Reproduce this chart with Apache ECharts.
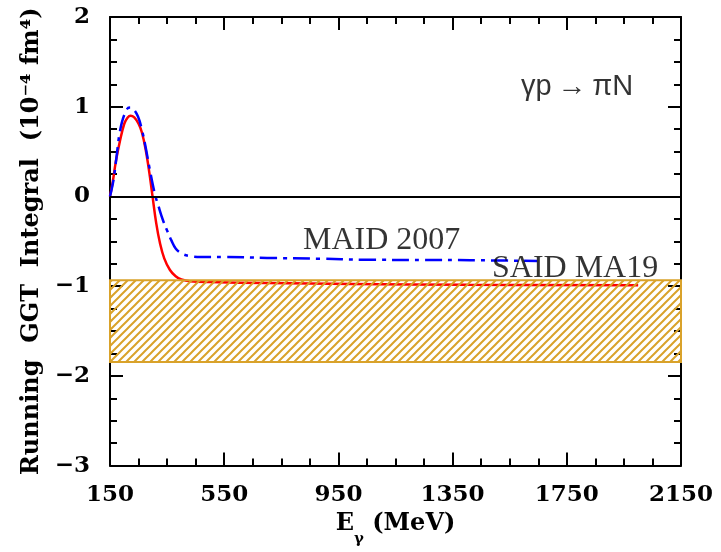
<!DOCTYPE html>
<html><head><meta charset="utf-8">
<script src="https://cdn.jsdelivr.net/npm/echarts@6/dist/echarts.min.js"></script>
<style>html,body{margin:0;padding:0;background:#fff}#c{width:721px;height:552px}</style>
</head><body><div id="c"></div>
<script>
// ---- data ----
const xMajorTicks = [150, 550, 950, 1350, 1750, 2150];
const xMinorTicks = [150, 250, 350, 450, 550, 650, 750, 850, 950, 1050, 1150, 1250, 1350, 1450, 1550, 1650, 1750, 1850, 1950, 2050, 2150];
const yTickLabels = {'2': '2', '1': '1', '0': '0', '-1': '\u22121', '-2': '\u22122', '-3': '\u22123'};

const saidEnergy = [150, 160, 170, 185, 200, 212, 222, 235, 250, 262, 275, 288, 299, 312, 325, 340, 360, 380, 400, 430, 500, 700, 1000, 1400, 2000];
const saidValues = [0, 0.17, 0.38, 0.62, 0.81, 0.88, 0.90, 0.88, 0.81, 0.71, 0.52, 0.26, 0, -0.30, -0.52, -0.69, -0.82, -0.89, -0.925, -0.945, -0.955, -0.965, -0.975, -0.985, -0.99];

const maidEnergy = [150, 162, 172, 185, 202, 218, 230, 248, 262, 273, 290, 307, 320, 335, 350, 365, 380, 400, 430, 470, 550, 700, 885, 1036, 1250, 1411, 1646];
const maidValues = [0, 0.18, 0.42, 0.73, 0.925, 0.99, 0.98, 0.89, 0.74, 0.58, 0.29, 0.03, -0.11, -0.26, -0.38, -0.49, -0.58, -0.635, -0.665, -0.675, -0.675, -0.685, -0.694, -0.705, -0.708, -0.71, -0.72];

const bandEnergy = [150, 2150];
const bandLimits = [-0.935, -1.845];

const textNames = ['MAID 2007', 'SAID MA19'];
const textAnchors = [[826, -0.495], [1488, -0.8]];
const reactionName = '\u03B3p\u2009\u2192\u2009\u03C0N';
const reactionAnchor = [1590, 1.22];

// ---- chart ----
function hatch() {
  const c = document.createElement('canvas');
  c.width = 8; c.height = 8;
  const g = c.getContext('2d');
  g.strokeStyle = '#d9a22a';
  g.lineWidth = 2;
  g.beginPath();
  g.moveTo(-1, 9); g.lineTo(9, -1);
  g.moveTo(-3, 3); g.lineTo(3, -3);
  g.moveTo(5, 11); g.lineTo(11, 5);
  g.stroke();
  return c;
}
const zip = (a, b) => a.map((v, i) => [v, b[i]]);
const axisLineStyle = {color: '#000', width: 2};
const serif = 'DejaVu Serif';
const gold = '#d9a22a';

function xAx(pos, major) {
  return {
    type: 'value', min: 150, max: 2150, position: pos,
    axisLine: {show: major, onZero: false, lineStyle: axisLineStyle},
    axisTick: {show: true, inside: true, length: major ? 13 : 7, customValues: major ? xMajorTicks : xMinorTicks, lineStyle: {color: '#000', width: 2}},
    axisLabel: {show: false},
    splitLine: {show: false}
  };
}
const xAxes = [xAx('bottom', true), xAx('bottom', false), xAx('top', true), xAx('top', false)];
xAxes[0].axisLabel = {show: true, customValues: xMajorTicks, formatter: v => String(v), margin: 18, color: '#000', fontFamily: serif, fontWeight: 'bold', fontSize: 23};
xAxes[0].name = '{e|E}{g|\u03B3}{e| (MeV)}';
xAxes[0].nameLocation = 'middle';
xAxes[0].nameGap = 40;
xAxes[0].nameTextStyle = {
  rich: {
    e: {fontFamily: serif, fontWeight: 'bold', fontSize: 24, color: '#000', lineHeight: 24, verticalAlign: 'top'},
    g: {fontFamily: serif, fontWeight: 'bold', fontSize: 15, color: '#000', lineHeight: 56, verticalAlign: 'middle'}
  }
};

function yAx(pos, main) {
  return {
    type: 'value', min: -3, max: 2, interval: 1, position: pos,
    axisLine: {show: true, onZero: false, lineStyle: axisLineStyle},
    axisTick: {show: true, inside: true, length: 13, lineStyle: {color: '#000', width: 2}},
    minorTick: {show: true, splitNumber: 4, length: 7, lineStyle: {color: '#000', width: 2}},
    axisLabel: main ? {show: true, formatter: v => yTickLabels[String(v)], margin: 20, color: '#000', fontFamily: serif, fontWeight: 'bold', fontSize: 23} : {show: false},
    splitLine: {show: false},
    minorSplitLine: {show: false}
  };
}
const yAxes = [yAx('left', true), yAx('right', false)];
yAxes[0].name = 'Running  GGT  Integral  (10\u207B\u2074 fm\u2074)';
yAxes[0].nameLocation = 'middle';
yAxes[0].nameGap = 50;
yAxes[0].nameTextStyle = {fontFamily: serif, fontWeight: 'bold', fontSize: 24, color: '#000'};

const chart = echarts.init(document.getElementById('c'), null, {renderer: 'canvas'});
chart.setOption({
  animation: false,
  backgroundColor: '#fff',
  grid: {left: 110, right: 40, top: 17, bottom: 79, containLabel: false},
  xAxis: xAxes,
  yAxis: yAxes,
  series: [
    {
      type: 'line', name: 'SAID MA19', xAxisIndex: 0, yAxisIndex: 0,
      data: zip(saidEnergy, saidValues), showSymbol: false, smooth: 0.4,
      lineStyle: {color: '#f00', width: 2.5}, z: 2,
      markLine: {silent: true, symbol: 'none', label: {show: false}, lineStyle: {color: '#000', type: 'solid', width: 2}, data: [{yAxis: 0}]}
    },
    {
      type: 'line', name: 'MAID 2007', xAxisIndex: 0, yAxisIndex: 0,
      data: zip(maidEnergy, maidValues), showSymbol: false, smooth: 0.4,
      lineStyle: {color: '#0000ff', width: 2.5, type: [17, 6, 4, 6]}, z: 3
    },
    {
      type: 'line', name: 'band', xAxisIndex: 0, yAxisIndex: 0, data: [], z: 5,
      markArea: {
        silent: true, z: 10,
        itemStyle: {color: {image: hatch(), repeat: 'repeat'}, borderColor: gold, borderWidth: 2},
        data: [[{coord: [bandEnergy[0], bandLimits[0]]}, {coord: [bandEnergy[1], bandLimits[1]]}]]
      }
    },
    {
      type: 'scatter', xAxisIndex: 0, yAxisIndex: 0, symbolSize: 0, z: 11, silent: true,
      data: textNames.map((n, i) => ({name: n, value: textAnchors[i]})),
      label: {show: true, position: 'right', distance: 0, formatter: '{b}', fontFamily: 'Liberation Serif', fontSize: 32, color: '#000'}
    },
    {
      type: 'scatter', xAxisIndex: 0, yAxisIndex: 0, symbolSize: 0, z: 11, silent: true,
      data: [{name: reactionName, value: reactionAnchor}],
      label: {show: true, position: 'right', distance: 0, formatter: '{b}', fontFamily: 'Liberation Sans', fontSize: 29, color: '#000'}
    }
  ]
});
</script>
</body></html>
